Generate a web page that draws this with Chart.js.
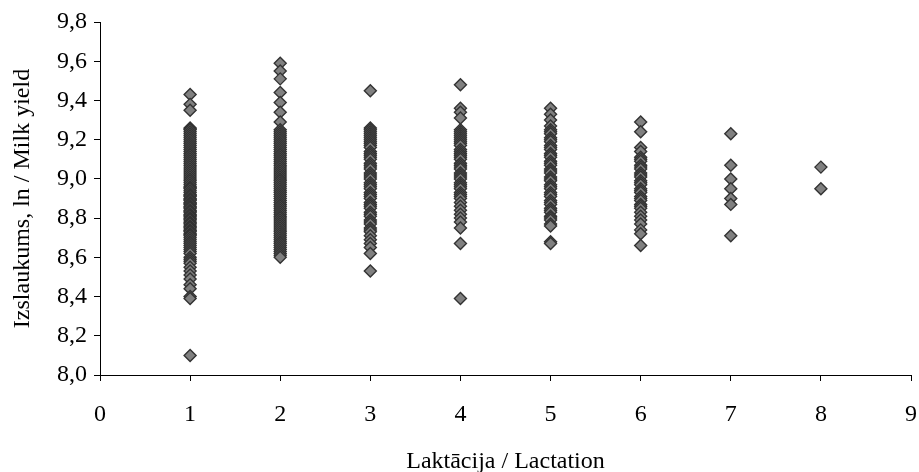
<!DOCTYPE html>
<html>
<head>
<meta charset="utf-8">
<script src="https://cdn.jsdelivr.net/npm/chart.js@4/dist/chart.umd.min.js"></script>
<style>
    html, body { margin: 0; padding: 0; background: #fff; }
    #wrap { width: 919px; height: 472px; position: relative; }
</style>
</head>
<body>
<div id="wrap"><canvas id="milkChart"></canvas></div>
<script>
// Milk yield (ln) by lactation number
const lactation1 = [9.43, 9.38, 9.35, 9.26, 9.255, 9.25, 9.24, 9.23, 9.22, 9.21, 9.20, 9.19, 9.18, 9.17, 9.16,
    9.15, 9.14, 9.13, 9.12, 9.11, 9.10, 9.09, 9.08, 9.07, 9.06, 9.05, 9.04, 9.03, 9.02, 9.01, 9.00, 8.99,
    8.98, 8.97, 8.96, 8.955, 8.95, 8.94, 8.93, 8.92, 8.915, 8.91, 8.90, 8.895, 8.89, 8.88, 8.875, 8.87,
    8.86, 8.855, 8.85, 8.84, 8.835, 8.83, 8.82, 8.815, 8.81, 8.80, 8.795, 8.79, 8.78, 8.775, 8.77, 8.76,
    8.755, 8.75, 8.74, 8.735, 8.73, 8.72, 8.715, 8.71, 8.70, 8.69, 8.68, 8.67, 8.66, 8.65, 8.64, 8.63,
    8.62, 8.60, 8.59, 8.58, 8.57, 8.55, 8.53, 8.51, 8.49, 8.46, 8.44, 8.40, 8.39, 8.10];
const lactation2 = [9.59, 9.55, 9.51, 9.44, 9.39, 9.34, 9.29, 9.25, 9.24, 9.23, 9.22, 9.21, 9.20, 9.19, 9.18,
    9.17, 9.16, 9.15, 9.14, 9.13, 9.12, 9.11, 9.10, 9.09, 9.08, 9.07, 9.06, 9.05, 9.04, 9.03, 9.02, 9.01,
    9.00, 8.99, 8.98, 8.97, 8.96, 8.95, 8.94, 8.93, 8.92, 8.91, 8.90, 8.89, 8.88, 8.87, 8.86, 8.85, 8.84,
    8.83, 8.82, 8.81, 8.80, 8.79, 8.78, 8.77, 8.76, 8.75, 8.74, 8.73, 8.72, 8.71, 8.70, 8.69, 8.68, 8.67,
    8.66, 8.65, 8.64, 8.63, 8.62, 8.61, 8.60];
const lactation3 = [9.45, 9.26, 9.25, 9.24, 9.23, 9.22, 9.21, 9.20, 9.19, 9.18, 9.17, 9.16, 9.14, 9.13, 9.12,
    9.11, 9.10, 9.08, 9.07, 9.06, 9.05, 9.03, 9.02, 9.01, 9.00, 8.98, 8.97, 8.96, 8.95, 8.93, 8.92, 8.91,
    8.90, 8.88, 8.87, 8.86, 8.85, 8.83, 8.82, 8.81, 8.79, 8.78, 8.77, 8.75, 8.74, 8.73, 8.71, 8.69, 8.67,
    8.65, 8.62, 8.53];
const lactation4 = [9.48, 9.36, 9.34, 9.31, 9.25, 9.24, 9.23, 9.22, 9.21, 9.20, 9.19, 9.18, 9.17, 9.15, 9.14,
    9.13, 9.12, 9.11, 9.10, 9.08, 9.07, 9.06, 9.05, 9.03, 9.02, 9.01, 9.00, 8.98, 8.97, 8.96, 8.95, 8.93,
    8.92, 8.91, 8.90, 8.88, 8.86, 8.84, 8.82, 8.80, 8.78, 8.75, 8.67, 8.39];
const lactation5 = [9.36, 9.33, 9.30, 9.27, 9.25, 9.24, 9.23, 9.21, 9.20, 9.19, 9.17, 9.16, 9.15, 9.13, 9.12,
    9.11, 9.09, 9.08, 9.07, 9.05, 9.04, 9.03, 9.01, 9.00, 8.99, 8.97, 8.96, 8.95, 8.93, 8.92, 8.91, 8.89,
    8.88, 8.87, 8.85, 8.84, 8.83, 8.81, 8.80, 8.79, 8.77, 8.76, 8.68, 8.67];
const lactation6 = [9.29, 9.24, 9.16, 9.14, 9.11, 9.10, 9.09, 9.07, 9.06, 9.05, 9.03, 9.02, 9.01, 8.99, 8.98,
    8.97, 8.95, 8.94, 8.93, 8.91, 8.90, 8.89, 8.87, 8.86, 8.85, 8.83, 8.81, 8.79, 8.77, 8.74, 8.72, 8.66];
const lactation7 = [9.23, 9.07, 9.00, 8.95, 8.90, 8.87, 8.71];
const lactation8 = [9.06, 8.95];

const lactations = [lactation1, lactation2, lactation3, lactation4, lactation5, lactation6, lactation7, lactation8];

const xTicks = [0, 1, 2, 3, 4, 5, 6, 7, 8, 9];
const yTicks = [8.0, 8.2, 8.4, 8.6, 8.8, 9.0, 9.2, 9.4, 9.6, 9.8];

const points = [];
lactations.forEach((values, i) => {
    values.forEach(v => points.push({ x: i + 1, y: v }));
});

const serif = '"Liberation Serif", "Times New Roman", serif';
const fontSize = 24;

const ctx = document.getElementById('milkChart').getContext('2d');
new Chart(ctx, {
    type: 'scatter',
    data: {
        datasets: [{
            label: 'Izslaukums',
            data: points,
            pointStyle: 'rectRot',
            pointRadius: 6,
            pointHoverRadius: 6,
            backgroundColor: '#808080',
            borderColor: '#333333',
            borderWidth: 1.4
        }]
    },
    options: {
        responsive: true,
        maintainAspectRatio: false,
        animation: false,
        layout: {
            padding: { top: 22, right: 8, bottom: 0, left: 0 }
        },
        scales: {
            x: {
                type: 'linear',
                min: xTicks[0],
                max: xTicks[xTicks.length - 1],
                afterFit: scale => {
                    scale.height = 97;
                    // tick padding should only push labels down, not shrink the plot sideways
                    scale.paddingLeft = 0;
                    scale.paddingRight = 0;
                },
                afterBuildTicks: scale => { scale.ticks = xTicks.map(v => ({ value: v })); },
                border: { display: true, color: '#000', width: 1 },
                grid: { drawOnChartArea: false, drawTicks: true, tickLength: 6, color: '#000' },
                ticks: {
                    color: '#000',
                    padding: 19,
                    font: { family: serif, size: fontSize },
                    callback: v => String(v)
                },
                title: {
                    display: true,
                    text: 'Laktācija / Lactation',
                    color: '#000',
                    padding: { top: 0, bottom: -4 },
                    font: { family: serif, size: fontSize }
                }
            },
            y: {
                type: 'linear',
                min: yTicks[0],
                max: yTicks[yTicks.length - 1],
                afterFit: scale => { scale.width = 100; },
                afterBuildTicks: scale => { scale.ticks = yTicks.map(v => ({ value: v })); },
                border: { display: true, color: '#000', width: 1 },
                grid: { drawOnChartArea: false, drawTicks: true, tickLength: 6, color: '#000' },
                ticks: {
                    color: '#000',
                    padding: 7,
                    font: { family: serif, size: fontSize },
                    callback: v => v.toFixed(1).replace('.', ',')
                },
                title: {
                    display: true,
                    text: 'Izslaukums, ln / Milk yield',
                    color: '#000',
                    padding: { top: 8, bottom: 0 },
                    font: { family: serif, size: fontSize }
                }
            }
        },
        plugins: {
            legend: { display: false },
            tooltip: { enabled: false }
        }
    }
});
</script>
</body>
</html>
